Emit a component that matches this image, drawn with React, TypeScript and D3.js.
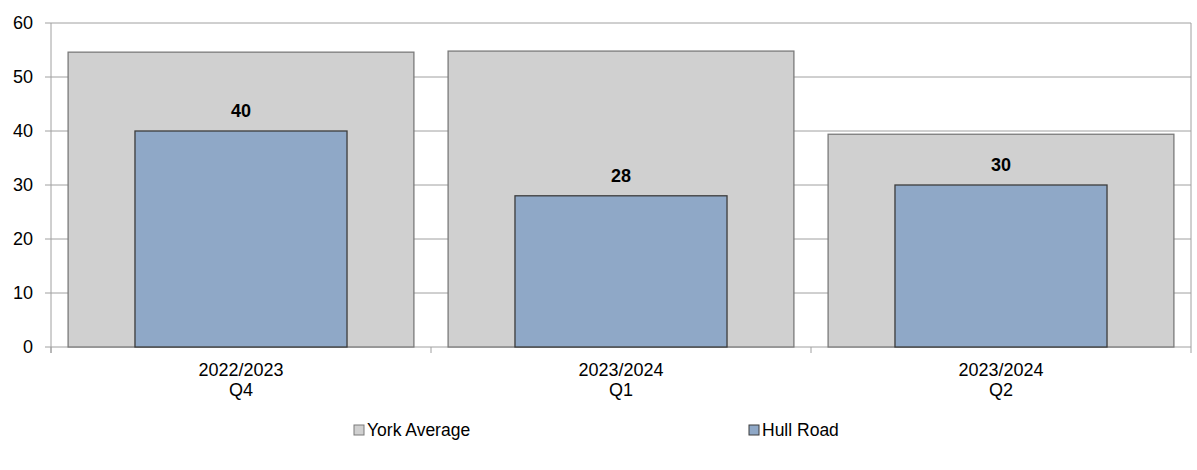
import React from "react";
import * as d3 from "d3";

const categories = ["2022/2023|Q4", "2023/2024|Q1", "2023/2024|Q2"];
const yorkAverage = [54.6, 54.8, 39.4];
const hullRoad = [40, 28, 30];
const yTicks = [0, 10, 20, 30, 40, 50, 60];
const seriesNames = ["York Average", "Hull Road"];

const W = 1197, H = 470;
const M = { left: 51, right: 6, top: 23, bottom: 123 };

export default function App() {
  const x = d3.scaleBand().domain(categories).range([M.left, W - M.right]).paddingInner(0).paddingOuter(0);
  const y = d3.scaleLinear().domain([0, 60]).range([H - M.bottom, M.top]);
  const bw = x.bandwidth();
  const grayW = bw * 0.91;
  const blueW = bw * 0.558;
  const font = "Liberation Sans, Arial, sans-serif";
  return (
    <svg width={W} height={H} style={{ position: "absolute", left: 0, top: 0 }} fontFamily={font}>
      {yTicks.map((t) => (
        <g key={t}>
          <line x1={M.left - 6} x2={W - M.right} y1={y(t)} y2={y(t)} stroke="#a0a0a0" strokeWidth={1} />
          <text x={M.left - 18} y={y(t)} dy="0.35em" textAnchor="end" fontSize={18} fill="#000">{t}</text>
        </g>
      ))}
      <line x1={M.left} x2={M.left} y1={y(60)} y2={y(0) + 6} stroke="#a0a0a0" />
      <line x1={W - M.right} x2={W - M.right} y1={y(60)} y2={y(0)} stroke="#a0a0a0" />
      {categories.map((c, i) => (
        <line key={"t" + i} x1={x(c)!} x2={x(c)!} y1={y(0)} y2={y(0) + 6} stroke="#a0a0a0" />
      ))}
      <line x1={W - M.right} x2={W - M.right} y1={y(0)} y2={y(0) + 6} stroke="#a0a0a0" />
      {categories.map((c, i) => {
        const cx = x(c)! + bw / 2;
        return (
          <g key={c}>
            <rect x={cx - grayW / 2} y={y(yorkAverage[i])} width={grayW} height={y(0) - y(yorkAverage[i])}
              fill="#d0d0d0" stroke="#7a7a7a" strokeWidth={1.3} />
            <rect x={cx - blueW / 2} y={y(hullRoad[i])} width={blueW} height={y(0) - y(hullRoad[i])}
              fill="#8fa8c7" stroke="#3c3c3c" strokeWidth={1.3} />
            <text x={cx} y={y(hullRoad[i]) - 14} textAnchor="middle" fontSize={18} fontWeight="bold">{hullRoad[i]}</text>
            {c.split("|").map((l, j) => (
              <text key={j} x={cx} y={376 + j * 20} textAnchor="middle" fontSize={18}>{l}</text>
            ))}
          </g>
        );
      })}
      {seriesNames.map((s, i) => {
        const lx = i === 0 ? 354 : 749;
        return (
          <g key={s}>
            <rect x={lx} y={425} width={10} height={10} fill={i === 0 ? "#d0d0d0" : "#8fa8c7"} stroke={i === 0 ? "#7a7a7a" : "#3c3c3c"} />
            <text x={lx + 13} y={436} fontSize={17.5}>{s}</text>
          </g>
        );
      })}
    </svg>
  );
}
